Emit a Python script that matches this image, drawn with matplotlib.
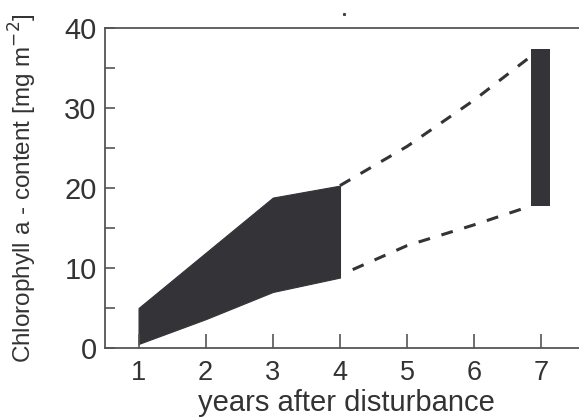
import matplotlib
matplotlib.use('Agg')
from matplotlib import pyplot as plt
import numpy as np

# measured band (years 1-4)
YEARS = np.array([1, 2, 3, 4])
BAND_LOW = np.array([0.5, 3.6, 7.0, 8.8])
BAND_HIGH = np.array([5.0, 11.9, 18.8, 20.3])

# extrapolated (dashed) limits
UPPER_X = np.array([4.0, 5.0, 6.0, 6.85])
UPPER_Y = np.array([20.3, 25.2, 31.0, 36.5])
LOWER_X = np.array([4.19, 5.0, 6.0, 6.86])
LOWER_Y = np.array([9.8, 12.8, 15.4, 17.8])

# year 7 range
BAR_X = 6.99
BAR_LOW = 17.7
BAR_HIGH = 37.4

plt.rcParams['font.family'] = ['Liberation Sans', 'DejaVu Sans']
text_color = '#333333'
spine_color = '#555555'
fill_color = '#343438'

fig = plt.figure(figsize=(5.79, 4.19), dpi=100)
ax = fig.add_axes([0.1813, 0.1695, 0.8187, 0.7637])

ax.fill_between(YEARS, BAND_LOW, BAND_HIGH, color=fill_color, lw=0.8, edgecolor=fill_color)
ax.plot(UPPER_X, UPPER_Y, color=fill_color, lw=2.2, linestyle=(0, (3.9, 3.9)))
ax.plot(LOWER_X, LOWER_Y, color=fill_color, lw=2.2, linestyle=(0, (3.9, 3.9)))
ax.bar(BAR_X, BAR_HIGH - BAR_LOW, 0.29, bottom=BAR_LOW, color=fill_color)

# stray dot above the frame
ax.plot([4.06], [41.7], marker='s', ms=1.2, color='#444444', clip_on=False)

ax.set_xlim(0.5, 7.56)
ax.set_ylim(0, 40)
ax.set_xticks(range(1, 8))
ax.set_yticks(range(0, 41, 10))
ax.set_yticks(range(5, 40, 10), minor=True)

ax.spines['right'].set_visible(False)
for s in ['left', 'bottom', 'top']:
    ax.spines[s].set_color(spine_color)
    ax.spines[s].set_linewidth(1.3)

ax.tick_params(axis='both', which='both', direction='in', color=spine_color,
               width=1.2, labelcolor=text_color)
ax.tick_params(axis='y', which='both', length=7, labelsize=21, pad=6)
ax.tick_params(axis='x', length=10, labelsize=19.5, pad=9)
ax.tick_params(top=False, right=False)

ax.set_xlabel('years after disturbance', fontsize=21, color=text_color)
ax.xaxis.set_label_coords(0.509, -0.128)
ax.set_ylabel('Chlorophyll a - content [mg m$^{-2}$]', fontsize=17.5, color=text_color)
ax.yaxis.set_label_coords(-0.173, 0.5)
ax.yaxis.label.set_va('center')

plt.savefig('out.png', dpi=100)
